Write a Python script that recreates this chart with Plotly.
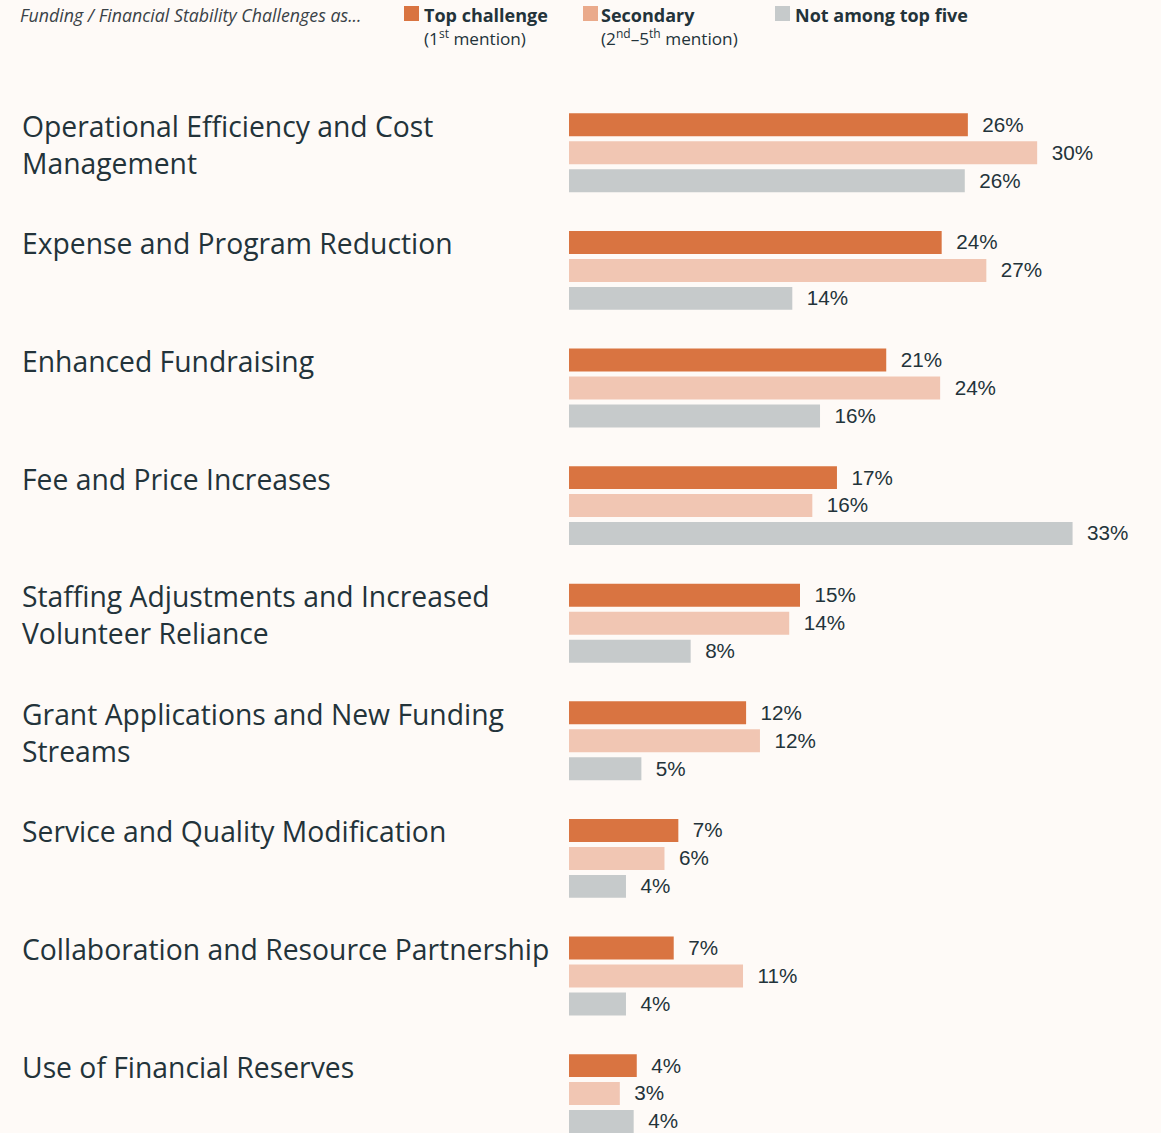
import plotly.graph_objects as go

categories = [
    "Operational Efficiency and Cost<br>Management",
    "Expense and Program Reduction",
    "Enhanced Fundraising",
    "Fee and Price Increases",
    "Staffing Adjustments and Increased<br>Volunteer Reliance",
    "Grant Applications and New Funding<br>Streams",
    "Service and Quality Modification",
    "Collaboration and Resource Partnership",
    "Use of Financial Reserves",
]
top_values = [25.9, 24.2, 20.6, 17.4, 15.0, 11.5, 7.1, 6.8, 4.4]
secondary_values = [30.4, 27.1, 24.1, 15.8, 14.3, 12.4, 6.2, 11.3, 3.3]
notop5_values = [25.7, 14.5, 16.3, 32.7, 7.9, 4.7, 3.7, 3.7, 4.2]
top_labels = ["26%", "24%", "21%", "17%", "15%", "12%", "7%", "7%", "4%"]
secondary_labels = ["30%", "27%", "24%", "16%", "14%", "12%", "6%", "11%", "3%"]
notop5_labels = ["26%", "14%", "16%", "33%", "8%", "5%", "4%", "4%", "4%"]

series_names = ["Top challenge", "Secondary", "Not among top five"]
colors = ["#D97441", "#F1C6B3", "#C6CACB"]
legend_colors = ["#D97441", "#EAAA8B", "#C6CACB"]
BG = "#FEFAF7"
TXT = "#23333A"
FONT = "'Open Sans', sans-serif"
LABEL_FONT = "'Liberation Sans', Arial, sans-serif"

W, H = 1161, 1133
ML, MR, MT, MB = 569, 0, 94, 0
PW = W - ML - MR
PH = H - MT - MB
PX_PER_UNIT = 15.4
GROUP_PX = 117.6

def fx(px):
    return (px - ML) / PW

def fy(py):
    return 1 - (py - MT) / PH

fig = go.Figure()
for name, vals, labs, col in zip(series_names,
                                 [top_values, secondary_values, notop5_values],
                                 [top_labels, secondary_labels, notop5_labels],
                                 colors):
    fig.add_trace(go.Bar(
        name=name, y=list(range(len(categories))), x=vals, orientation="h",
        marker=dict(color=col, line=dict(width=0)),
        text=["\u00a0\u00a0" + l for l in labs], textposition="outside",
        textfont=dict(family=LABEL_FONT, size=22.5, color=TXT),
        cliponaxis=False, showlegend=False,
    ))

# category labels
for i, c in enumerate(categories):
    fig.add_annotation(
        xref="paper", x=fx(20), yref="y", y=i, yshift=48,
        text=c, showarrow=False, xanchor="left", yanchor="top", align="left",
        font=dict(family=FONT, size=28.3, color=TXT),
    )

# legend / header
fig.add_annotation(xref="paper", yref="paper", x=fx(18), y=fy(15),
                   text="<i>Funding / Financial Stability Challenges as...</i>",
                   showarrow=False, xanchor="left", yanchor="middle",
                   font=dict(family=FONT, size=17.8, color="#3A4247"))
legend_items = [
    (404, 422, "Top challenge", "(1<sup>st</sup> mention)"),
    (583, 599, "Secondary", "(2<sup>nd</sup>\u20135<sup>th</sup> mention)"),
    (775, 793, "Not among top five", None),
]
for (sx, tx, title, sub), lc in zip(legend_items, legend_colors):
    fig.add_shape(type="rect", xref="paper", yref="paper",
                  x0=fx(sx), x1=fx(sx + 15), y0=fy(21), y1=fy(6),
                  fillcolor=lc, line=dict(width=0))
    fig.add_annotation(xref="paper", yref="paper", x=fx(tx), y=fy(15),
                       text="<b>" + title + "</b>", showarrow=False,
                       xanchor="left", yanchor="middle",
                       font=dict(family=FONT, size=18, color=TXT))
    if sub:
        fig.add_annotation(xref="paper", yref="paper", x=fx(tx), y=fy(37),
                           text=sub, showarrow=False,
                           xanchor="left", yanchor="middle",
                           font=dict(family=FONT, size=17.2, color=TXT))

fig.update_layout(
    width=W, height=H,
    margin=dict(l=ML, r=MR, t=MT, b=MB, pad=0),
    paper_bgcolor=BG, plot_bgcolor=BG,
    barmode="group", bargap=0.286, bargroupgap=0.18,
    xaxis=dict(range=[0, PW / PX_PER_UNIT], visible=False, fixedrange=True),
    yaxis=dict(range=[PH / GROUP_PX - 0.5, -0.5], visible=False, fixedrange=True),
    showlegend=False,
)

fig.write_html(
    "out.html",
    config={"displayModeBar": False},
    post_script="document.body.style.margin='0';document.body.style.background='" + BG + "';",
)
